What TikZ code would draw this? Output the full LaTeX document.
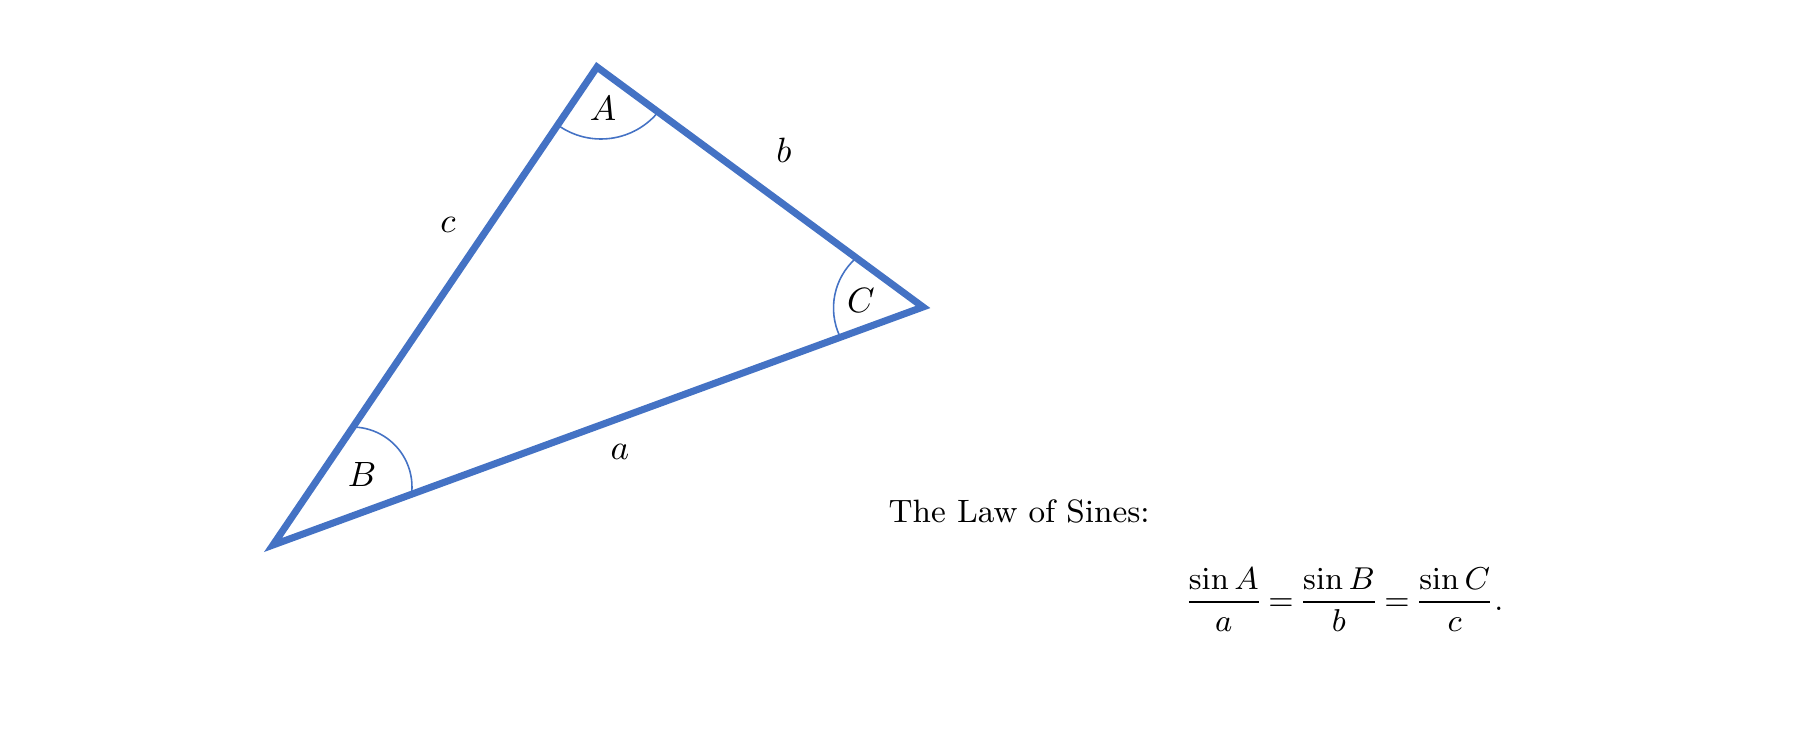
\documentclass[tikz,border=0pt]{standalone}
\usetikzlibrary{calc,positioning}
\definecolor{triBlue}{HTML}{4472C4}

\begin{document}
\begin{tikzpicture}[thick side/.style={line width=2pt, triBlue, line join=miter},
    angle arc/.style={line width=0.45pt, triBlue}]
        \useasboundingbox (0,0) rectangle (18.13,7.30);

        \coordinate (cAPt) at (5.97,6.63);
        \coordinate (cBPt) at (2.73,1.85);
        \coordinate (cCPt) at (9.23,4.23);
        \coordinate (cAArcPt) at (6.01,6.65);
        \coordinate (cBArcPt) at (3.52,2.43);
        \coordinate (cCArcPt) at (9.00,4.22);

        \draw [thick side] (cAPt) -- (cCPt) -- (cBPt) -- cycle;

%        arcs for the angles
        \draw [angle arc] ($(cAArcPt)+(234:0.74)$) arc[start angle=234, end angle=322, radius=0.74];
        \draw [angle arc] ($(cBArcPt)+(88:0.60)$) arc[start angle=88, end angle=-5, radius=0.60];
        \draw [angle arc] ($(cCArcPt)+(132:0.665)$) arc[start angle=132, end angle=205, radius=0.665];

        \node (nAngA) at (6.03,6.215) {$A$};
        \node (nAngB) at (3.62,2.56) {$B$};
        \node (nAngC) at (8.61,4.30) {$C$};
        \node (nSideA) at (6.20,2.78) {$a$};
        \node (nSideB) at (7.84,5.80) {$b$};
        \node (nSideC) at (4.48,5.05) {$c$};

        \node[anchor=base west, inner sep=0pt, font=\fontsize{9.2}{11}\selectfont] (nLawTxt) at (8.88,2.08) {The Law of Sines:};
        \node[anchor=base west, inner sep=0pt, font=\fontsize{9.4}{11}\selectfont] (nLawEq) at (11.84,1.20)
            {\thickmuskip=3mu $\displaystyle\frac{\sin A}{a}=\frac{\sin B}{b}=\frac{\sin C}{c}.$};
\end{tikzpicture}
\end{document}
